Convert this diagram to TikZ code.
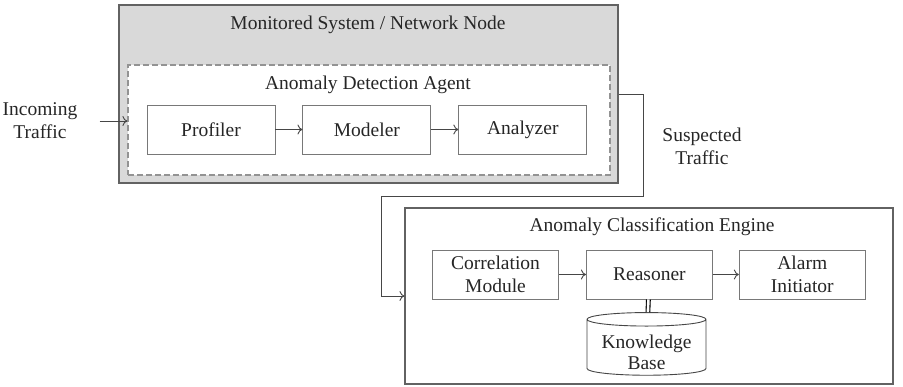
\documentclass[tikz,border=0pt]{standalone}
\usepackage{fontspec}
\setmainfont{LiberationSerif}[Extension=.ttf, UprightFont=*-Regular, BoldFont=*-Bold]
\usetikzlibrary{shapes.geometric, arrows, arrows.meta, positioning}
\definecolor{boxgray}{RGB}{217,217,217}
\definecolor{linegray}{RGB}{70,70,70}
\definecolor{edgegray}{RGB}{120,120,120}
\tikzstyle{sysbox} = [rectangle, minimum width=499pt, minimum height=178pt, draw=linegray!85, fill=boxgray, line width=1.3pt, inner sep=0pt]
\tikzstyle{agentbox} = [rectangle, minimum width=482pt, minimum height=110pt, draw=edgegray!80, dash pattern=on 6pt off 3pt, fill=white, line width=1.2pt, inner sep=0pt]
\tikzstyle{enginebox} = [rectangle, minimum width=488pt, minimum height=176pt, draw=linegray!85, fill=white, line width=1.1pt, inner sep=0pt]
\tikzstyle{process} = [rectangle, minimum width=126pt, minimum height=49pt, text centered, draw=edgegray, fill=white, line width=0.9pt, align=center, inner sep=0pt]
\tikzstyle{database} = [cylinder, shape border rotate=90, aspect=0.15, minimum width=119pt, minimum height=61pt, draw=linegray, fill=white, line width=0.9pt, inner sep=0pt]
\tikzstyle{textlabel} = [align=center, inner sep=2pt]
\tikzstyle{arrow} = [line width=0.9pt, draw=linegray, -{To[length=5pt, width=10pt]}]
\tikzstyle{doublelink} = [double=white, double distance=2.6pt, line width=1.1pt, draw=black]

\begin{document}
\begin{tikzpicture}[x=1pt, y=-1pt, node distance=27pt, font=\fontsize{19.5}{23}\selectfont, text=black!85]
        \useasboundingbox (0,0) rectangle (903,386);

        \node (sysnode) [sysbox] at (368.5,94) {};
        \node (systitle) at (368,25) {Monitored System / Network Node};
        \node (agent) [agentbox] at (369,120) {};
        \node (agenttitle) at (368,85) {Anomaly Detection Agent};
        \node (profiler) [process, minimum width=128pt] at (211,129.5) {Profiler};
        \node (modeler) [process, minimum width=128pt, right=of profiler] {Modeler};
        \node (analyzer) [process, minimum width=128pt, right=of modeler] {Analyzer};
        \node (incoming) [textlabel] at (40,121) {Incoming\\Traffic};
        \node (suspected) [textlabel] at (702,146) {Suspected\\Traffic};
        \node (engine) [enginebox] at (649,296) {};
        \node (enginetitle) at (652,227) {Anomaly Classification Engine};
        \node (correlation) [process] at (495.5,274.5) {Correlation\\Module};
        \node (reasoner) [process, right=of correlation] {Reasoner};
        \node (alarm) [process, right=26pt of reasoner] {Alarm\\Initiator};
        \node (kb) [database] at (646.5,347.5) {\raisebox{-12pt}[21pt][21pt]{\begin{tabular}{@{}c@{}}Knowledge\\[-2pt]Base\end{tabular}}};
        \coordinate (turn1) at (643,196);
        \coordinate (turn2) at (381,196);

        \draw [arrow] ([xshift=20pt]incoming.east) -- (incoming.east -| agent.west);
        \draw [arrow] (profiler) -- (modeler);
        \draw [arrow] (modeler) -- (analyzer);
        \draw [arrow] (sysnode.east) -| (turn1) -- (turn2) |- (engine.west);
        \draw [arrow] (correlation) -- (reasoner);
        \draw [arrow] (reasoner) -- (alarm);
        \draw [doublelink] (reasoner) -- (kb);

    \end{tikzpicture}
\end{document}
